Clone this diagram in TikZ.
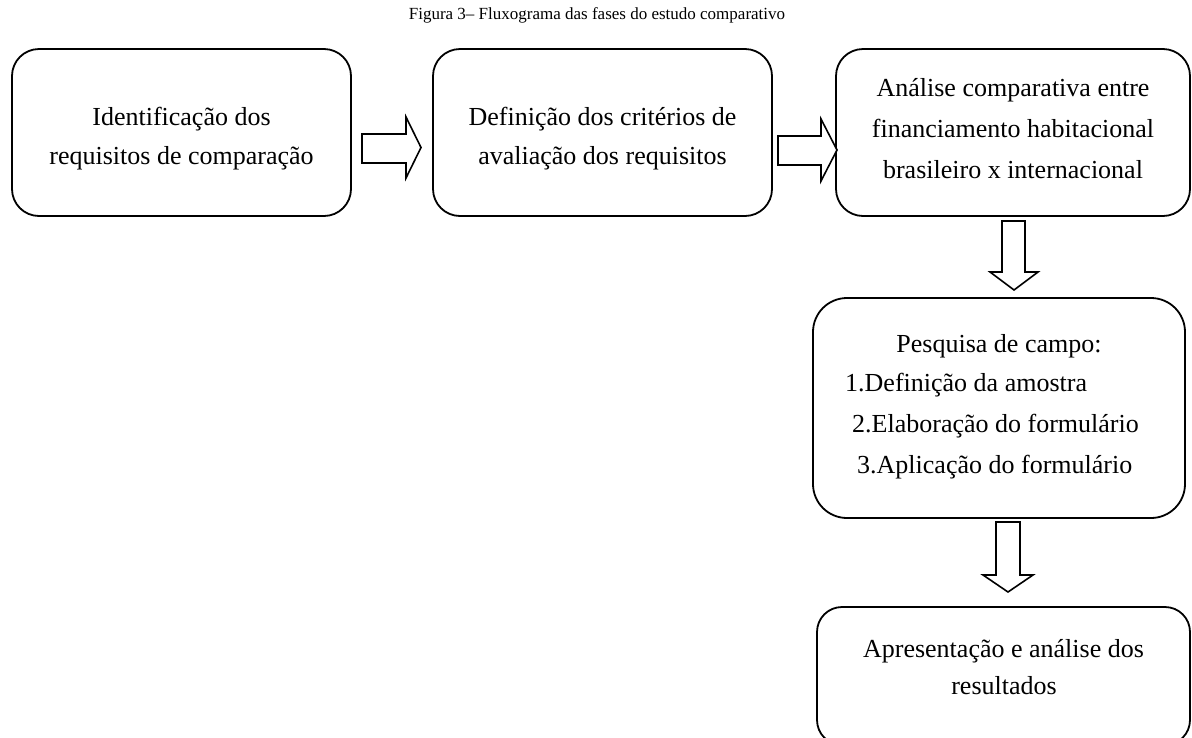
\documentclass[tikz,border=0pt]{standalone}
\usepackage{fontspec}
\setmainfont{Liberation Serif}
\begin{document}
\begin{tikzpicture}[x=1pt,y=-1pt,
  box/.style={draw, line width=1.8pt, rounded corners=#1, inner sep=0pt},
  txt/.style={font=\fontsize{26}{30}\selectfont, inner sep=0pt, anchor=base},
  txtw/.style={font=\fontsize{26}{30}\selectfont, inner sep=0pt, anchor=base west},
  blk/.style={draw, line width=1.6pt, fill=white, line join=miter}]
\useasboundingbox (0,0) rectangle (1192,737);
\clip (0,0) rectangle (1192,737);

% title
\node[font=\fontsize{17}{20}\selectfont, inner sep=0pt, anchor=base] (title) at (597,19) {Figura 3– Fluxograma das fases do estudo comparativo};

% boxes
\node[box=27pt, minimum width=339pt, minimum height=167pt] (b1) at (181.5,132.5) {};
\node[box=27pt, minimum width=339pt, minimum height=167pt] (b2) at (602.5,132.5) {};
\node[box=27pt, minimum width=354pt, minimum height=167pt] (b3) at (1013,132.5) {};
\node[box=34pt, minimum width=372pt, minimum height=220pt] (b4) at (999,408) {};
\node[box=25pt, minimum width=373pt, minimum height=138pt] (b5) at (1003.5,676) {};

% texts
\node[txt] (t1a) at (181.5,125) {Identificação dos};
\node[txt] (t1b) at (181.5,164) {requisitos de comparação};
\node[txt] (t2a) at (602.5,125) {Definição dos critérios de};
\node[txt] (t2b) at (602.5,164) {avaliação dos requisitos};
\node[txt] (t3a) at (1013,96) {Análise comparativa entre};
\node[txt] (t3b) at (1013,137) {financiamento habitacional};
\node[txt] (t3c) at (1013,178) {brasileiro x internacional};
\node[txt] (t4a) at (999,352) {Pesquisa de campo:};
\node[txtw] (t4b) at (845,391) {1.Definição da amostra};
\node[txtw] (t4c) at (852,432) {2.Elaboração do formulário};
\node[txtw] (t4d) at (857,473) {3.Aplicação do formulário};
\node[txt] (t5a) at (1003.5,657) {Apresentação e análise dos};
\node[txt] (t5b) at (1004,694) {resultados};

% block arrows
\draw[blk] (362,134) -- (406,134) -- (406,117) -- (421,147.5) -- (406,178) -- (406,163) -- (362,163) -- cycle;
\draw[blk] (778,136) -- (821,136) -- (821,119) -- (837,150) -- (821,181) -- (821,165) -- (778,165) -- cycle;
\draw[blk] (1002,221) -- (1025,221) -- (1025,272) -- (1038,272) -- (1014,290) -- (990,272) -- (1002,272) -- cycle;
\draw[blk] (996,522) -- (1020,522) -- (1020,575) -- (1033,575) -- (1008,592) -- (983,575) -- (996,575) -- cycle;
\end{tikzpicture}
\end{document}
